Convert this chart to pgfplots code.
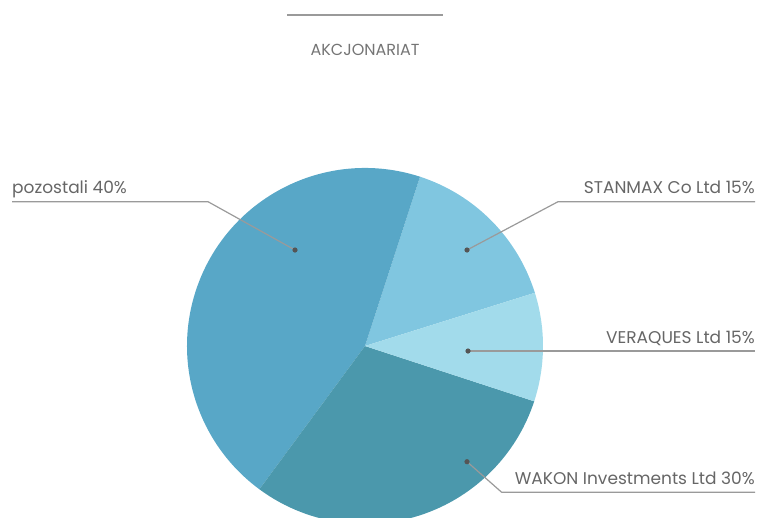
\documentclass[border=0pt]{standalone}
\usepackage{pgfplots}
\pgfplotsset{compat=1.18}
\usepackage{fontspec}
\setmainfont{Poppins}
\definecolor{cPoz}{HTML}{58A7C7}
\definecolor{cSta}{HTML}{80C6E0}
\definecolor{cVer}{HTML}{A2DBEB}
\definecolor{cWak}{HTML}{4B98AC}
\definecolor{txt}{HTML}{666666}
\definecolor{lead}{HTML}{9A9A9A}
\definecolor{dot}{HTML}{555555}
\begin{document}
\begin{tikzpicture}
\begin{axis}[hide axis, x=1pt, y=1pt, y dir=reverse,
  xmin=0, xmax=757, ymin=0, ymax=517, clip=true,
  axis line style={draw=none}]
% slices: start and end angles (degrees)
\fill[cSta] (axis cs:365,346) -- ++(17.4:178pt) arc[start angle=17.4, end angle=72.0, radius=178pt] -- cycle;
\fill[cPoz] (axis cs:365,346) -- ++(72.0:178pt) arc[start angle=72.0, end angle=233.6, radius=178pt] -- cycle;
\fill[cWak] (axis cs:365,346) -- ++(233.6:178pt) arc[start angle=233.6, end angle=341.9, radius=178pt] -- cycle;
\fill[cVer] (axis cs:365,346) -- ++(341.9:178pt) arc[start angle=341.9, end angle=377.4, radius=178pt] -- cycle;
% title
\draw[lead, line width=2pt] (axis cs:287,15) -- (axis cs:443,15);
\node[anchor=base, text=txt!90, font=\fontsize{16}{18}\selectfont, inner sep=0pt] at (axis cs:365,55) {AKCJONARIAT};
% leader lines
\draw[lead, line width=1.2pt] (axis cs:12,201.7) -- (axis cs:208,201.7) -- (axis cs:295,250);
\draw[lead, line width=1.2pt] (axis cs:467,250) -- (axis cs:558,201.7) -- (axis cs:755,201.7);
\draw[lead, line width=1.2pt] (axis cs:468,351) -- (axis cs:755,351);
\draw[lead, line width=1.2pt] (axis cs:467,461.7) -- (axis cs:501.7,492.3) -- (axis cs:755,492.3);
\fill[dot] (axis cs:295,250) circle[radius=2.6pt];
\fill[dot] (axis cs:467,250) circle[radius=2.6pt];
\fill[dot] (axis cs:468,351) circle[radius=2.6pt];
\fill[dot] (axis cs:467,461.7) circle[radius=2.6pt];
% labels
\node[anchor=base west, text=txt, font=\fontsize{17}{19}\selectfont, inner sep=0pt] at (axis cs:12,193.3) {pozostali 40\%};
\node[anchor=base east, text=txt, font=\fontsize{17}{19}\selectfont, inner sep=0pt] at (axis cs:755,193.3) {STANMAX Co Ltd 15\%};
\node[anchor=base east, text=txt, font=\fontsize{17}{19}\selectfont, inner sep=0pt] at (axis cs:755,343.3) {VERAQUES Ltd 15\%};
\node[anchor=base east, text=txt, font=\fontsize{17}{19}\selectfont, inner sep=0pt] at (axis cs:755,484.3) {WAKON Investments Ltd 30\%};
\coordinate (TL) at (axis cs:0,0);
\coordinate (BR) at (axis cs:757,517);
\end{axis}
\pgfresetboundingbox
\useasboundingbox (TL) rectangle (BR);
\end{tikzpicture}
\end{document}
